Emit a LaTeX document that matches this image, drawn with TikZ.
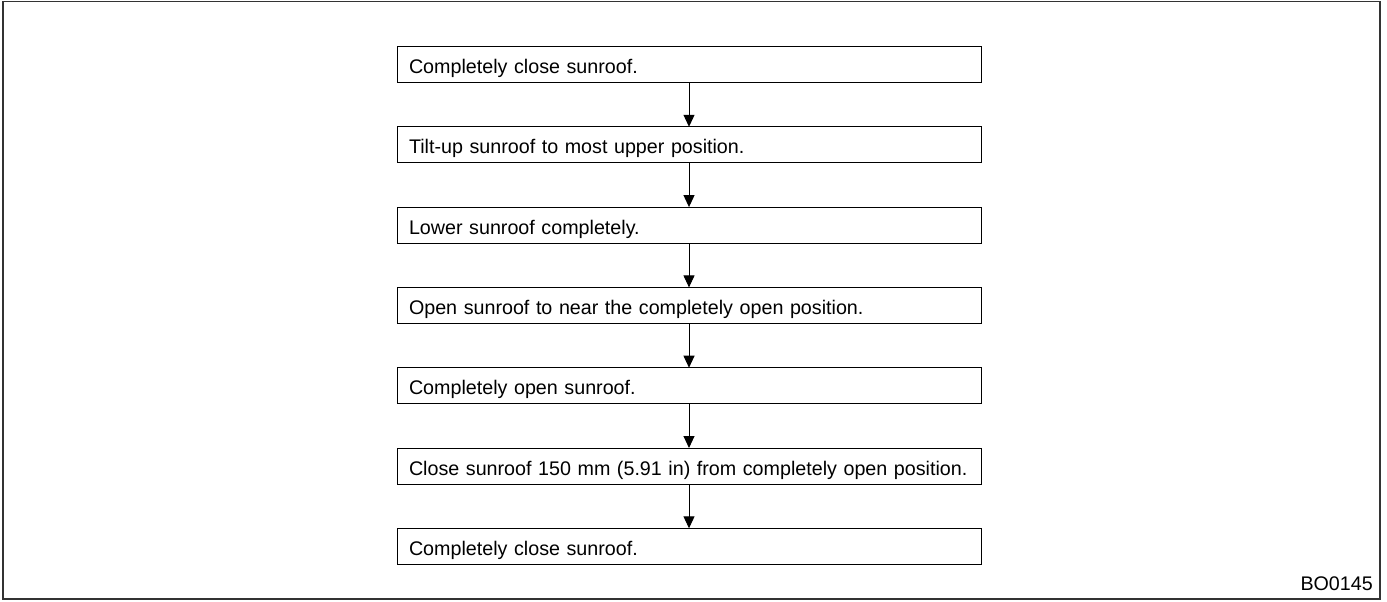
\documentclass[tikz,border=0pt]{standalone}
\usepackage{fontspec}
\setmainfont{Liberation Sans}
\usepackage{tikz}
\usetikzlibrary{positioning}
\usetikzlibrary{arrows.meta}

\begin{document}
\begin{tikzpicture}[x=1pt, y=1pt, node distance=44.3pt,
    S/.style={draw, line width=1pt, rectangle, minimum width=584pt, minimum height=36pt,
      text width=560pt, align=left, inner xsep=12pt, inner ysep=0pt, outer sep=0pt,
      text height=18pt, text depth=0pt, font=\fontsize{19.7}{24}\selectfont},
    A/.style={line width=1pt, -{Triangle[length=12pt, width=11pt]}}]
    \useasboundingbox (0,0) rectangle (1387,-602);
    \draw[line width=1.6pt, black!80] (3,-1.5) rectangle (1380,-599);

    \node[S] (s0) at (689,-64.5) {Completely close sunroof.};
    \node[S] (s1) [below=of s0] {Tilt-up sunroof to most upper position.};
    \node[S] (s2) [below=of s1] {Lower sunroof completely.};
    \node[S] (s3) [below=of s2] {Open sunroof to near the completely open position.};
    \node[S] (s4) [below=of s3] {Completely open sunroof.};
    \node[S] (s5) [below=of s4] {Close sunroof 150 mm (5.91 in) from completely open position.};
    \node[S] (s6) [below=of s5] {Completely close sunroof.};

    \node[anchor=base east, inner sep=0pt, font=\fontsize{19.7}{24}\selectfont] (id) at (1373,-590) {BO0145};

    \draw[A] (s0) -- (s1);
    \draw[A] (s1) -- (s2);
    \draw[A] (s2) -- (s3);
    \draw[A] (s3) -- (s4);
    \draw[A] (s4) -- (s5);
    \draw[A] (s5) -- (s6);
\end{tikzpicture}
\end{document}
